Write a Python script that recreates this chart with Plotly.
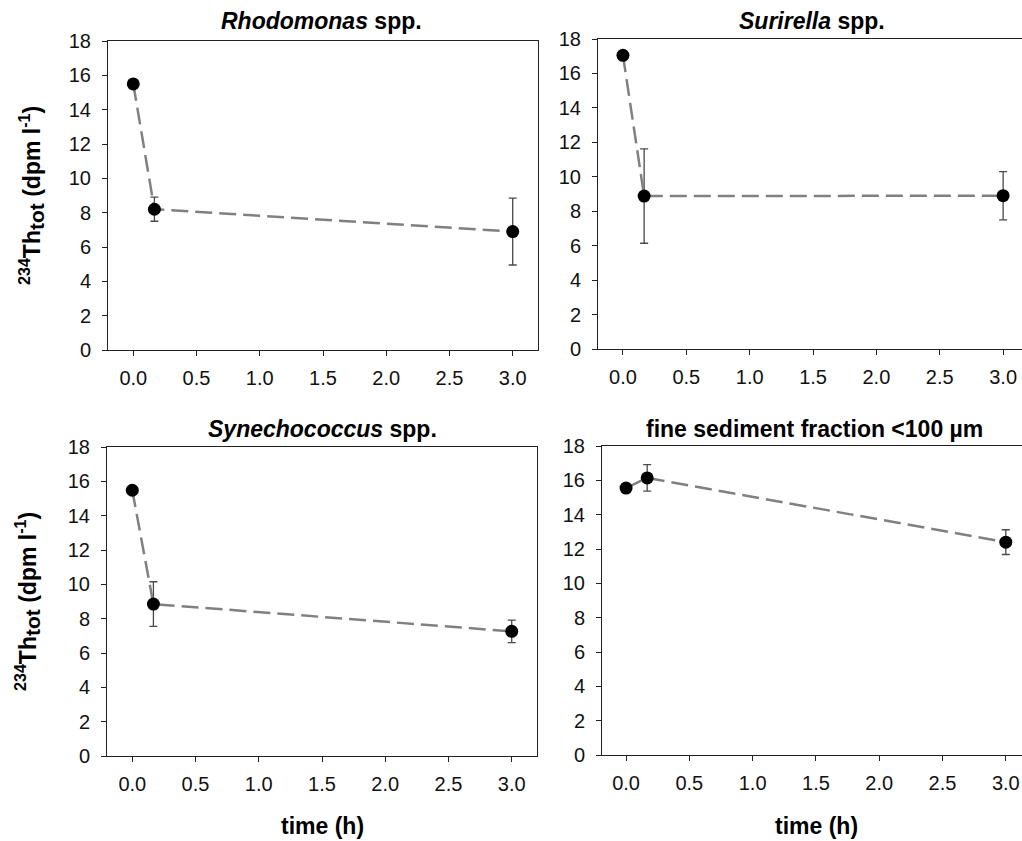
import plotly.graph_objects as go

W, H = 1022, 841

time_h = [0.0, 0.167, 3.0]

titles = ["<i>Rhodomonas</i> spp.", "<i>Surirella</i> spp.",
          "<i>Synechococcus</i> spp.", "fine sediment fraction <100 µm"]

rhodo_y = [15.5, 8.2, 6.9]
rhodo_err = [0, 0.7, 1.95]
suri_y = [17.05, 8.88, 8.9]
suri_err = [0, 2.74, 1.4]
syne_y = [15.48, 8.85, 7.26]
syne_err = [0, 1.3, 0.66]
sed_y = [15.55, 16.14, 12.4]
sed_err = [0, 0.77, 0.72]

series_y = [rhodo_y, suri_y, syne_y, sed_y]
series_err = [rhodo_err, suri_err, syne_err, sed_err]

y_ticks = list(range(0, 19, 2))
x_ticks = [0.0, 0.5, 1.0, 1.5, 2.0, 2.5, 3.0]

FONT = "Arial, Liberation Sans, sans-serif"

# plot-area pixel boxes: (left, right, top, bottom), x-range
boxes = [
    (108, 538, 41, 350, [-0.2, 3.2]),
    (598, 1022, 39, 349, [-0.197, 3.149]),
    (107, 537, 447, 756, [-0.2, 3.2]),
    (602, 1022, 446, 755, [-0.19, 3.128]),
]

fig = go.Figure()
layout = dict(
    width=W, height=H,
    margin=dict(l=0, r=0, t=0, b=0, pad=0, autoexpand=False),
    paper_bgcolor="white", plot_bgcolor="white",
    showlegend=False,
    font=dict(family=FONT, size=20, color="black"),
)

for i, (y, err) in enumerate(zip(series_y, series_err)):
    n = i + 1
    xa = "x" if n == 1 else f"x{n}"
    ya = "y" if n == 1 else f"y{n}"
    fig.add_trace(go.Scatter(
        x=time_h, y=y, xaxis=xa, yaxis=ya, mode="lines+markers",
        line=dict(color="#808080", width=2.5, dash="17px,7px"),
        marker=dict(color="black", size=13),
        error_y=dict(type="data", array=err, visible=True,
                     color="#4a4a4a", thickness=1.3, width=4),
    ))
    l, r, t, b, xr = boxes[i]
    right_open = (r >= W)
    layout["xaxis" if n == 1 else f"xaxis{n}"] = dict(
        domain=[l / W, r / W], anchor=ya, range=xr,
        tickvals=x_ticks, tickformat=".1f",
        showgrid=False, zeroline=False, automargin=False,
        showline=True, linecolor="#222", linewidth=1, mirror=True,
        ticks="outside", ticklen=5, tickcolor="#222",
        ticklabelstandoff=5,
        tickfont=dict(size=20, color="#111", family=FONT),
    )
    layout["yaxis" if n == 1 else f"yaxis{n}"] = dict(
        domain=[1 - b / H, 1 - t / H], anchor=xa, range=[0, 18],
        tickvals=y_ticks, automargin=False,
        showgrid=False, zeroline=False,
        showline=True, linecolor="#222", linewidth=1,
        mirror=(not right_open),
        ticks="outside", ticklen=5, tickcolor="#222",
        ticklabelstandoff=7,
        tickfont=dict(size=20, color="#111", family=FONT),
    )

fig.update_layout(**layout)

# panel titles
title_pos = [(321, 21), (812, 21), (322, 429), (814, 429)]
for txt, (cx, cy) in zip(titles, title_pos):
    fig.add_annotation(text=f"<b>{txt}</b>", x=cx / W, y=1 - cy / H,
                       xref="paper", yref="paper", showarrow=False,
                       xanchor="center", yanchor="middle",
                       font=dict(size=23, family=FONT, color="black"))

# y-axis titles
ylab = ("<b><sup>234</sup>Th<sub><span style=\"font-size:21px\">tot</span></sub>"
        " (dpm l<sup>-1</sup>)</b>")
for cx, cy in [(32, 196), (27, 602)]:
    fig.add_annotation(text=ylab, x=cx / W, y=1 - cy / H,
                       xref="paper", yref="paper", showarrow=False,
                       textangle=-90, xanchor="center", yanchor="middle",
                       font=dict(size=23, family=FONT, color="black"))

# x-axis titles
for cx in [322, 816]:
    fig.add_annotation(text="<b>time (h)</b>", x=cx / W, y=1 - 826 / H,
                       xref="paper", yref="paper", showarrow=False,
                       xanchor="center", yanchor="middle",
                       font=dict(size=23, family=FONT, color="black"))

fig.write_html("out.html")
